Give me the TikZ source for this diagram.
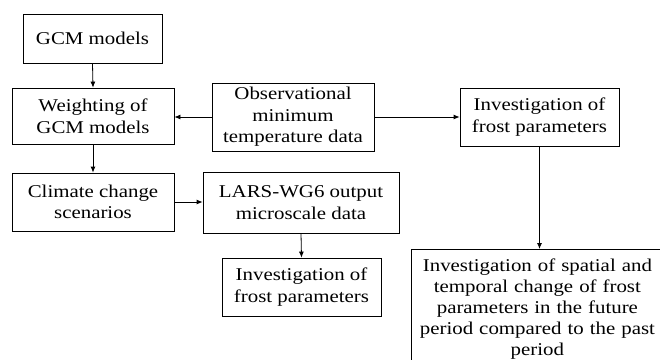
\documentclass[tikz,border=0pt]{standalone}
\usepackage{fontspec}
\setmainfont{Liberation Serif}[FakeStretch=1.16]
\usetikzlibrary{arrows.meta,positioning}

\begin{document}
\begin{tikzpicture}[
  x=1pt,
  y=-1pt,
  font=\fontsize{18}{21.6}\selectfont,
  >={Latex[length=6pt,width=5pt]},
  box/.style={draw, line width=0.8pt, align=center, inner sep=0pt},
  flow/.style={->, line width=0.8pt}
]
  \useasboundingbox (0,0) rectangle (660,359);
  \clip (0,0) rectangle (660,359);

  \node[box, minimum width=139pt, minimum height=49pt] (gcm) at (92.5, 38.5) {GCM models};
  \node[box, minimum width=162pt, minimum height=56pt] (weight) at (93, 116) {Weighting of\\GCM models};
  \node[box, minimum width=162pt, minimum height=68pt] (obs) at (293, 117) {Observational\\minimum\\temperature data};
  \node[box, minimum width=159pt, minimum height=58pt] (invtop) at (539.5, 117) {Investigation of\\frost parameters};
  \node[box, minimum width=162pt, minimum height=58pt] (climate) at (93, 202) {Climate change\\scenarios};
  \node[box, minimum width=196pt, minimum height=61pt] (lars) at (301, 202.5) {LARS-WG6 output\\microscale data};
  \node[box, minimum width=159pt, minimum height=58pt] (invbot) at (301.5, 287) {Investigation of\\frost parameters};
  \node[box, anchor=north west, minimum width=252pt, minimum height=120pt, inner xsep=6pt, inner ysep=3pt, text width=240pt,
        font=\fontsize{18}{21}\selectfont] (change) at (411, 249)
    {Investigation of spatial and\\temporal change of frost\\parameters in the future\\period compared to the past\\period};

  \draw[flow] (gcm.south) -- (weight.north);
  \draw[flow] (obs.west) -- (obs.west -| weight.east);
  \draw[flow] (obs.east) -- (obs.east -| invtop.west);
  \draw[flow] (weight.south) -- (climate.north);
  \draw[flow] (climate.east) -- (climate.east -| lars.west);
  \draw[flow] (lars.south) -- (invbot.north);
  \draw[flow] (invtop.south) -- (invtop.south |- change.north);
\end{tikzpicture}
\end{document}
